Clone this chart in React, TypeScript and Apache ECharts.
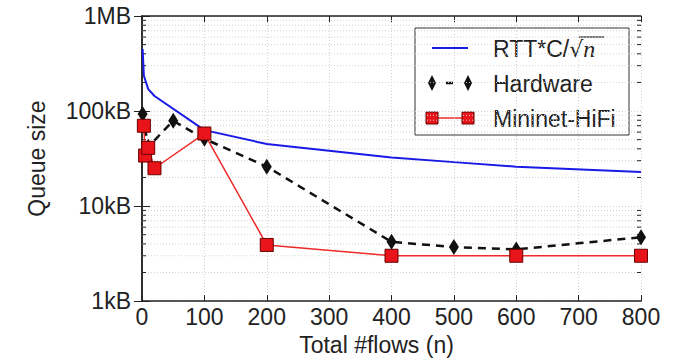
import { useEffect, useRef } from "react";
import * as echarts from "echarts";

// ---- data (queue size in kB) ----
const blueFlows = [1, 3, 10, 20, 100, 200, 400, 500, 600, 800];
const blueKB = [450, 235, 170, 144, 63, 45, 32.5, 29, 26, 22.8];

const hwFlows = [1, 10, 50, 100, 200, 400, 500, 600, 800];
const hwKB = [93, 42, 79, 51, 26, 4.2, 3.7, 3.5, 4.7];

const mnFlows = [3, 5, 10, 20, 100, 200, 400, 600, 800];
const mnKB = [70, 34, 41, 25, 58, 3.9, 3.0, 3.0, 3.0];

const yTickValues = [1, 10, 100, 1000];
const yTickLabels = ["1kB", "10kB", "100kB", "1MB"];
const minorMultipliers = [2, 3, 4, 5, 6, 7, 8, 9];
const xMin = 0;
const xMax = 800;
const xInterval = 100;

const FONT = "Liberation Sans, Arial, Helvetica, sans-serif";
const TXT = "#222";
const GRID = "#d2d2d2";

export default function App() {
  const ref = useRef<HTMLDivElement>(null);
  useEffect(() => {
    if (!ref.current) return;
    const chart = echarts.init(ref.current, null, { renderer: "svg" });

    const minorVals: number[][] = [];
    for (let d = 0; d < yTickValues.length - 1; d++) {
      for (const m of minorMultipliers) minorVals.push([xMin, yTickValues[d] * m]);
    }

    const labelMap: Record<string, string> = {};
    yTickValues.forEach((v, i) => (labelMap[String(v)] = yTickLabels[i]));

    const gridDot = { color: GRID, width: 1, type: [1, 2] as any };

    const option: any = {
      animation: false,
      backgroundColor: "#fff",
      grid: { left: 142, right: 46, top: 16, bottom: 57, containLabel: false },
      xAxis: [
        {
          type: "value",
          min: xMin,
          max: xMax,
          interval: xInterval,
          name: "Total #flows (n)",
          nameLocation: "middle",
          nameGap: 31,
          nameTextStyle: { fontFamily: FONT, fontSize: 23, color: TXT, padding: [0, 30, 0, 0] },
          axisLine: { show: true, lineStyle: { color: "#222", width: 1.5 } },
          axisTick: { show: true, inside: true, length: 6, lineStyle: { color: "#222" } },
          axisLabel: { fontFamily: FONT, fontSize: 23, color: TXT, margin: 4 },
          splitLine: { show: true, lineStyle: gridDot },
        },
        {
          type: "value",
          position: "top",
          min: xMin,
          max: xMax,
          interval: xInterval,
          axisLine: { show: true, lineStyle: { color: "#222", width: 1.5 } },
          axisTick: { show: true, inside: true, length: 6, lineStyle: { color: "#222" } },
          axisLabel: { show: false },
          splitLine: { show: false },
        },
      ],
      yAxis: [
        {
          type: "log",
          logBase: 10,
          min: 1,
          max: 1000,
          name: "Queue size",
          nameLocation: "middle",
          nameRotate: 90,
          nameGap: 94,
          nameTextStyle: { fontFamily: FONT, fontSize: 23, color: TXT },
          axisLine: { show: true, lineStyle: { color: "#222", width: 1.5 } },
          axisTick: { show: true, inside: true, length: 8, lineStyle: { color: "#222" } },
          axisLabel: {
            fontFamily: FONT,
            fontSize: 23,
            color: TXT,
            margin: 11,
            formatter: (v: number) => labelMap[String(Math.round(v))] ?? "",
          },
          splitLine: { show: true, lineStyle: gridDot },
        },
        {
          type: "log",
          logBase: 10,
          min: 1,
          max: 1000,
          position: "right",
          axisLine: { show: true, lineStyle: { color: "#222", width: 1.5 } },
          axisTick: { show: true, inside: true, length: 8, lineStyle: { color: "#222" } },
          axisLabel: { show: false },
          splitLine: { show: false },
        },
      ],
      series: [
        {
          type: "custom",
          xAxisIndex: 0,
          yAxisIndex: 0,
          silent: true,
          z: 1,
          clip: false,
          data: minorVals,
          encode: { x: 0, y: 1 },
          renderItem: (_p: any, api: any) => {
            const v = api.value(1);
            const a = api.coord([xMin, v]);
            const b = api.coord([xMax, v]);
            return {
              type: "group",
              children: [
                {
                  type: "line",
                  shape: { x1: a[0], y1: a[1], x2: b[0], y2: b[1] },
                  style: { stroke: GRID, lineWidth: 1, lineDash: [1, 2] },
                },
                {
                  type: "line",
                  shape: { x1: a[0], y1: a[1], x2: a[0] + 4, y2: a[1] },
                  style: { stroke: "#222", lineWidth: 1 },
                },
                {
                  type: "line",
                  shape: { x1: b[0] - 4, y1: b[1], x2: b[0], y2: b[1] },
                  style: { stroke: "#222", lineWidth: 1 },
                },
              ],
            };
          },
        },
        {
          name: "RTT*C/√n",
          type: "line",
          data: blueFlows.map((x, i) => [x, blueKB[i]]),
          showSymbol: false,
          symbol: "none",
          z: 3,
          lineStyle: { color: "#1a1ae6", width: 2 },
        },
        {
          name: "Hardware",
          type: "line",
          data: hwFlows.map((x, i) => [x, hwKB[i]]),
          symbol: "diamond",
          symbolSize: [10, 16],
          z: 4,
          itemStyle: { color: "#111" },
          lineStyle: { color: "#111", width: 2.5, type: [8, 6] },
        },
        {
          name: "Mininet-HiFi",
          type: "line",
          data: mnFlows.map((x, i) => [x, mnKB[i]]),
          symbol: "rect",
          symbolSize: 13,
          z: 5,
          itemStyle: { color: "#e8141a", borderColor: "#6a0000", borderWidth: 1 },
          lineStyle: { color: "#ee2a2a", width: 1.5 },
        },
      ],
      graphic: [
        {
          type: "group",
          z: 100,
          children: [
            {
              type: "rect",
              shape: { x: 415, y: 28, width: 214, height: 107 },
              style: { fill: "#fff", stroke: "#333", lineWidth: 1 },
            },
            // row 1
            {
              type: "line",
              shape: { x1: 432, y1: 48, x2: 468, y2: 48 },
              style: { stroke: "#1a1ae6", lineWidth: 2 },
            },
            {
              type: "text",
              x: 493,
              y: 49,
              style: {
                text: "{a|RTT*C/}{b|√}{c|n}",
                textVerticalAlign: "middle",
                rich: {
                  a: { fontFamily: FONT, fontSize: 23, fill: TXT },
                  b: { fontFamily: "DejaVu Serif", fontSize: 22, fill: TXT },
                  c: { fontFamily: "Liberation Serif", fontStyle: "italic", fontSize: 24, fill: TXT },
                },
              },
            },
            {
              type: "line",
              shape: { x1: 579, y1: 37, x2: 604, y2: 37 },
              style: { stroke: TXT, lineWidth: 1.2 },
            },
            // row 2
            {
              type: "polygon",
              shape: { points: [[432, 75], [436, 83], [432, 91], [428, 83]] },
              style: { fill: "#111" },
            },
            {
              type: "line",
              shape: { x1: 446, y1: 83, x2: 453, y2: 83 },
              style: { stroke: "#111", lineWidth: 2.5 },
            },
            {
              type: "polygon",
              shape: { points: [[468, 75], [472, 83], [468, 91], [464, 83]] },
              style: { fill: "#111" },
            },
            {
              type: "text",
              x: 493,
              y: 84,
              style: { text: "Hardware", fontFamily: FONT, fontSize: 23, fill: TXT, textVerticalAlign: "middle" },
            },
            // row 3
            {
              type: "line",
              shape: { x1: 432, y1: 118, x2: 468, y2: 118 },
              style: { stroke: "#ee2a2a", lineWidth: 1.5 },
            },
            {
              type: "rect",
              shape: { x: 426, y: 112, width: 12, height: 12 },
              style: { fill: "#e8141a", stroke: "#6a0000", lineWidth: 1 },
            },
            {
              type: "rect",
              shape: { x: 462, y: 112, width: 12, height: 12 },
              style: { fill: "#e8141a", stroke: "#6a0000", lineWidth: 1 },
            },
            {
              type: "text",
              x: 493,
              y: 119,
              style: { text: "Mininet-HiFi", fontFamily: FONT, fontSize: 23, fill: TXT, textVerticalAlign: "middle" },
            },
          ],
        },
      ],
    };
    chart.setOption(option);
    return () => chart.dispose();
  }, []);
  return (
    <div
      ref={ref}
      style={{ position: "absolute", left: 0, top: 0, width: 687, height: 361, background: "#fff" }}
    />
  );
}
